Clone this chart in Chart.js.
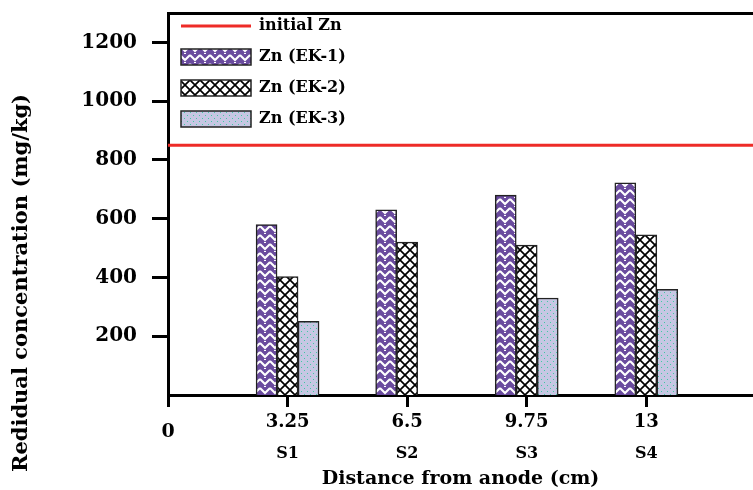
<!DOCTYPE html>
<html>
<head>
<meta charset="utf-8">
<script src="https://cdn.jsdelivr.net/npm/chart.js@4.4.1/dist/chart.umd.min.js"></script>
<style>
	html, body { margin: 0; padding: 0; background: #fff; overflow: hidden; }
</style>
</head>
<body>
<canvas id="chart" width="753" height="490"></canvas>
<script>
	const distances = [3.25, 6.5, 9.75, 13];
	const sections = ['S1', 'S2', 'S3', 'S4'];
	const xTicks = [0, 3.25, 6.5, 9.75, 13];
	const yTicks = [200, 400, 600, 800, 1000, 1200];
	const ek1 = [580, 630, 680, 722];
	const ek2 = [403, 520, 510, 545];
	const ek3 = [251, null, 330, 360];
	const initialZn = 850;
	const xMax = 15.9;
	const yMax = 1300;
	const yTitleText = 'Redidual concentration (mg/kg)';

	const canvas = document.getElementById('chart');
	const serif = '"DejaVu Serif", serif';
	const font = (size, extra) => ({ family: serif, size, weight: 'bold', ...extra });
	const pinTicks = vals => scale => { scale.ticks = vals.map(v => ({ value: v })); };
	const fixSize = (prop, size) => s => {
		s[prop] = size;
		s.paddingTop = s.paddingBottom = s.paddingLeft = s.paddingRight = 0;
	};

	const makePattern = (w, h, draw) => {
		const c = document.createElement('canvas');
		c.width = w;
		c.height = h;
		draw(c.getContext('2d'), w, h);
		return canvas.getContext('2d').createPattern(c, 'repeat');
	};

	// purple with white zigzags
	const ek1Fill = makePattern(10, 9, (g, w, h) => {
		g.fillStyle = '#6a4b9e';
		g.fillRect(0, 0, w, h);
		g.strokeStyle = '#fff';
		g.lineWidth = 2;
		g.beginPath();
		g.moveTo(0, 1); g.lineTo(5, 6); g.lineTo(10, 1);
		g.stroke();
		g.fillStyle = '#fff';
		g.fillRect(4, 8, 2, 1);
	});
	// black diamond lattice
	const ek2Fill = makePattern(10, 10, (g, w, h) => {
		g.fillStyle = '#fff';
		g.fillRect(0, 0, w, h);
		g.strokeStyle = '#000';
		g.lineWidth = 1.7;
		g.beginPath();
		g.moveTo(0, 0); g.lineTo(10, 10);
		g.moveTo(10, 0); g.lineTo(0, 10);
		g.stroke();
	});
	// lavender with teal dots
	const ek3Fill = makePattern(6, 6, (g, w, h) => {
		g.fillStyle = '#c6c7e3';
		g.fillRect(0, 0, w, h);
		g.fillStyle = '#3fc9a4';
		g.fillRect(1, 1, 1, 1);
		g.fillRect(4, 4, 1, 1);
	});

	const points = vals => distances.map((x, i) => ({ x, y: vals[i] }));

	const barStyle = {
		type: 'bar',
		xAxisID: 'x',
		yAxisID: 'y',
		borderColor: '#222',
		borderWidth: 1.5,
		barThickness: 21,
		pointStyle: 'rect'
	};

	const yTitle = {
		id: 'yTitle',
		afterDraw(chart) {
			const { ctx } = chart;
			ctx.save();
			ctx.translate(22, 283);
			ctx.rotate(-Math.PI / 2);
			ctx.font = 'bold 21px ' + serif;
			ctx.fillStyle = '#000';
			ctx.textAlign = 'center';
			ctx.textBaseline = 'middle';
			ctx.fillText(yTitleText, 0, 0);
			ctx.restore();
		}
	};

	// legend sits in the top left corner of the plot box
	const legendNudge = {
		id: 'legendNudge',
		beforeDraw(chart) {
			if (!chart.legend) return;
			chart.legend.top = chart.chartArea.top - 10;
			chart.legend.left = chart.chartArea.left - 2;
		}
	};

	new Chart(canvas, {
		type: 'bar',
		data: {
			datasets: [
				{
					type: 'line',
					label: 'initial Zn',
					xAxisID: 'x',
					yAxisID: 'y',
					data: [{ x: 0, y: initialZn }, { x: xMax, y: initialZn }],
					borderColor: '#ee2b27',
					borderWidth: 3,
					pointRadius: 0,
					pointHoverRadius: 0,
					pointStyle: 'line',
					pointBorderColor: '#ee2b27',
					pointBorderWidth: 3
				},
				{ ...barStyle, label: 'Zn (EK-1)', data: points(ek1), backgroundColor: ek1Fill },
				{ ...barStyle, label: 'Zn (EK-2)', data: points(ek2), backgroundColor: ek2Fill },
				{ ...barStyle, label: 'Zn (EK-3)', data: points(ek3), backgroundColor: ek3Fill }
			]
		},
		options: {
			responsive: false,
			animation: false,
			layout: { padding: 0 },
			plugins: {
				tooltip: { enabled: false },
				legend: {
					position: 'chartArea',
					align: 'start',
					labels: {
						usePointStyle: true,
						pointStyleWidth: 70,
						boxHeight: 17,
						padding: 15,
						color: '#000',
						font: font(16)
					}
				}
			},
			scales: {
				x: {
					type: 'linear',
					position: 'bottom',
					weight: 0,
					min: 0,
					max: xMax,
					offset: false,
					afterBuildTicks: pinTicks(xTicks),
					afterFit: fixSize('height', 43),
					grid: { drawOnChartArea: false, offset: false, tickLength: 12, tickWidth: 3, tickColor: '#000' },
					border: { color: '#000', width: 3 },
					ticks: {
						color: '#000',
						padding: 5,
						maxRotation: 0,
						autoSkip: false,
						font: ctx => ctx.index === 0 ? font(19, { lineHeight: 2.1 }) : font(18),
						callback: v => String(v)
					}
				},
				x2: {
					type: 'linear',
					position: 'bottom',
					weight: 1,
					min: 0,
					max: xMax,
					offset: false,
					afterBuildTicks: pinTicks(distances),
					afterFit: fixSize('height', 52),
					grid: { display: false, drawTicks: false },
					border: { display: false },
					ticks: {
						color: '#000',
						padding: 6,
						maxRotation: 0,
						autoSkip: false,
						font: font(16),
						callback: (v, i) => sections[i]
					},
					title: { display: true, text: 'Distance from anode (cm)', color: '#000', font: font(19), padding: 0 }
				},
				xTop: {
					type: 'linear',
					position: 'top',
					min: 0,
					max: xMax,
					afterFit: fixSize('height', 13),
					ticks: { display: false },
					grid: { drawOnChartArea: false, drawTicks: false },
					border: { color: '#000', width: 3 }
				},
				y: {
					min: 0,
					max: yMax,
					afterBuildTicks: pinTicks(yTicks),
					afterFit: fixSize('width', 168),
					grid: { drawOnChartArea: false, tickLength: 16, tickWidth: 3, tickColor: '#000' },
					border: { color: '#000', width: 3 },
					ticks: { color: '#000', padding: 15, font: font(20), callback: v => String(v) }
				}
			}
		},
		plugins: [yTitle, legendNudge]
	});
</script>
</body>
</html>
